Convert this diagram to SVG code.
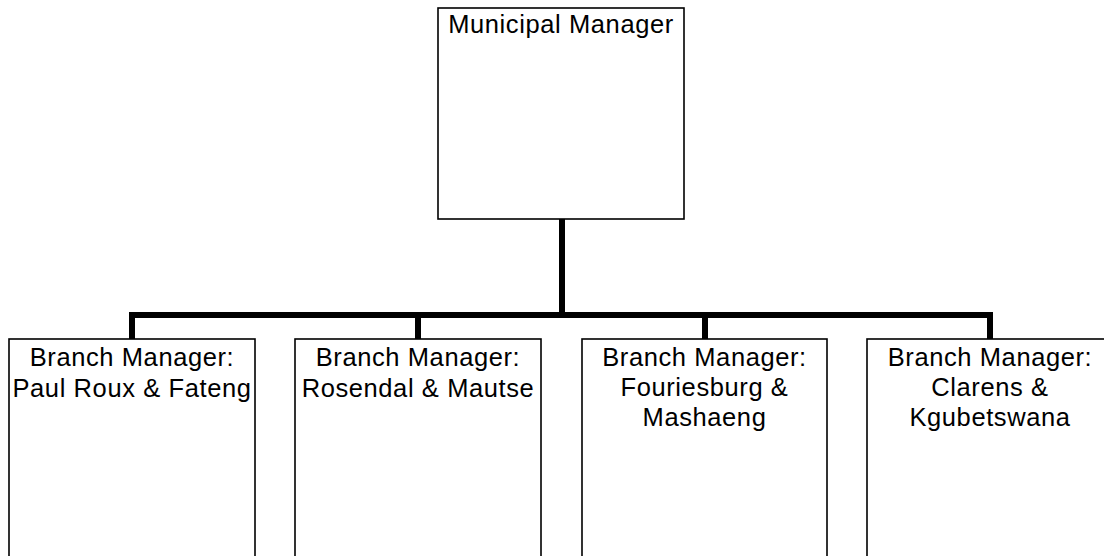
<svg xmlns="http://www.w3.org/2000/svg" width="1104" height="556" viewBox="0 0 1104 556">
<style>
.box{fill:#fff;stroke:#000;stroke-width:1.6}
.t{font-family:"Liberation Sans",Arial,sans-serif;font-size:25.5px;letter-spacing:0.6px;fill:#000;text-anchor:middle}
.c{fill:none;stroke:#000;stroke-width:6;stroke-linejoin:miter}
</style>
<rect width="1104" height="556" fill="#fff"/>
<g id="connectors">
<path class="c" d="M562 219V315"/>
<path class="c" d="M132 339V315H990V339"/>
<path class="c" d="M418 315V339"/>
<path class="c" d="M705 315V339"/>
</g>
<g id="municipal-manager">
<rect class="box" x="438" y="8" width="246" height="211"/>
<text class="t" x="561" y="33">Municipal Manager</text>
</g>
<g id="branch-paul-roux">
<rect class="box" x="9" y="339" width="246" height="230"/>
<text class="t" x="132" y="366">Branch Manager:</text>
<text class="t" x="132" y="397">Paul Roux &amp; Fateng</text>
</g>
<g id="branch-rosendal">
<rect class="box" x="295" y="339" width="246" height="230"/>
<text class="t" x="418" y="366">Branch Manager:</text>
<text class="t" x="418" y="397">Rosendal &amp; Mautse</text>
</g>
<g id="branch-fouriesburg">
<rect class="box" x="582" y="339" width="245" height="230"/>
<text class="t" x="704.5" y="366">Branch Manager:</text>
<text class="t" x="704.5" y="396">Fouriesburg &amp;</text>
<text class="t" x="704.5" y="426">Mashaeng</text>
</g>
<g id="branch-clarens">
<rect class="box" x="867" y="339" width="246" height="230"/>
<text class="t" x="990" y="366">Branch Manager:</text>
<text class="t" x="990" y="396">Clarens &amp;</text>
<text class="t" x="990" y="426">Kgubetswana</text>
</g>
</svg>
